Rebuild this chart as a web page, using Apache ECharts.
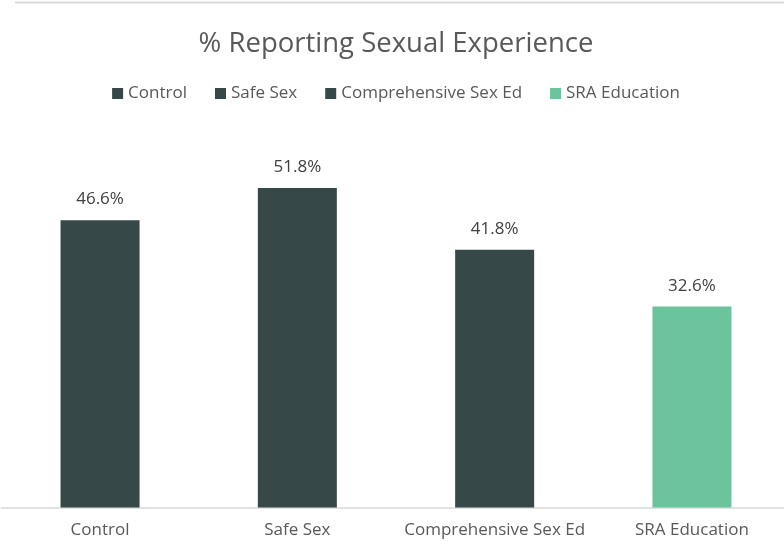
<!DOCTYPE html>
<html>
<head>
<meta charset="utf-8">
<script src="https://cdn.jsdelivr.net/npm/echarts@6/dist/echarts.min.js"></script>
<style>
  html, body { margin: 0; padding: 0; background: #fff; overflow: hidden; }
  /* a bit wider than the window: the plot area runs past the right edge, as in the reference */
  #chart { width: 792px; height: 558px; }
</style>
</head>
<body>
<div id="chart"></div>
<script>
  // data
  var categories = ['Control', 'Safe Sex', 'Comprehensive Sex Ed', 'SRA Education']
  var values = [46.6, 51.8, 41.8, 32.6]
  var barColors = ['#374848', '#374848', '#374848', '#6BC49B']

  var font = 'Open Sans'
  var chart = echarts.init(document.getElementById('chart'))

  // one series per category so each gets a legend entry (vary colors by point)
  var series = categories.map(function (name, i) {
    return {
      name: name,
      type: 'bar',
      stack: 'all',
      barWidth: 79,
      itemStyle: { color: barColors[i] },
      label: {
        show: true,
        position: 'top',
        distance: 12,
        color: '#404040',
        fontSize: 17,
        fontFamily: font,
        formatter: function (p) { return p.value.toFixed(1) + '%' }
      },
      data: categories.map(function (c, j) { return j === i ? values[i] : null })
    }
  })

  var option = {
    animation: false,
    title: {
      text: '% Reporting Sexual Experience',
      left: 'center',
      top: 25,
      textStyle: { color: '#595959', fontSize: 27.5, fontWeight: 'normal', fontFamily: font }
    },
    legend: {
      top: 80,
      left: 'center',
      itemWidth: 11,
      itemHeight: 11,
      itemGap: 28,
      icon: 'rect',
      textStyle: { color: '#595959', fontSize: 17, fontFamily: font },
      data: categories
    },
    graphic: [{
      type: 'line',
      shape: { x1: 15, y1: 2.5, x2: 792, y2: 2.5 },
      style: { stroke: '#d9d9d9', lineWidth: 2 }
    }],
    grid: { left: 1.4, right: 1.4, top: 137.5, bottom: 50.5, containLabel: false },
    xAxis: {
      type: 'category',
      data: categories,
      axisTick: { show: false },
      axisLine: { lineStyle: { color: '#d9d9d9', width: 1.5 } },
      axisLabel: { color: '#595959', fontSize: 17, fontFamily: font, margin: 14, interval: 0 }
    },
    yAxis: {
      type: 'value',
      min: 0,
      max: 60,
      show: false,
      splitLine: { show: false }
    },
    series: series
  }

  chart.setOption(option)
  window.addEventListener('resize', function () {
    chart.resize()
  })
</script>
</body>
</html>
